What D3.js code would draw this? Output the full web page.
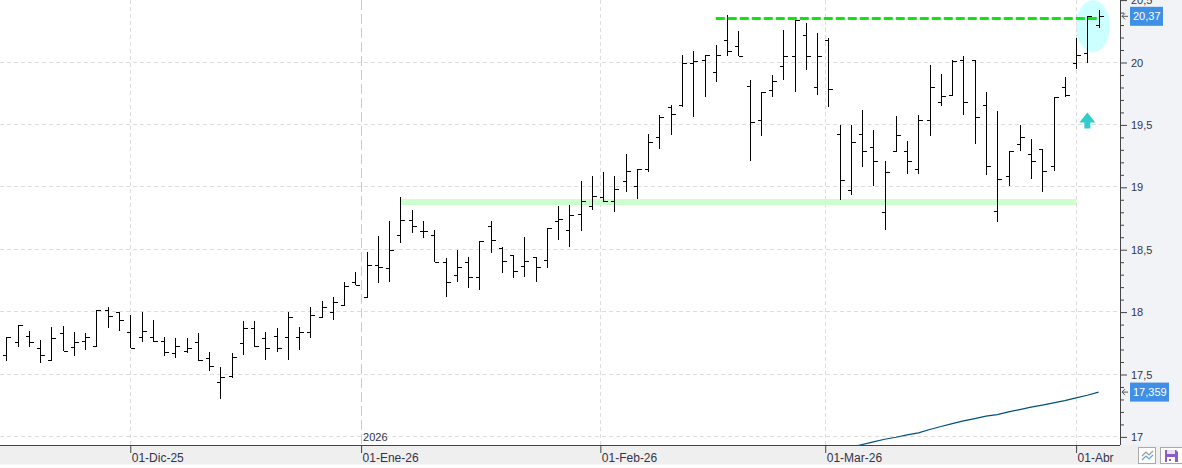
<!DOCTYPE html>
<html><head><meta charset="utf-8">
<script src="https://cdnjs.cloudflare.com/ajax/libs/d3/7.8.5/d3.min.js"></script>
<style>html,body{margin:0;padding:0;background:#fff;overflow:hidden}svg{display:block}text{font-family:"Liberation Sans",Arial,sans-serif}</style>
</head><body><svg id="c" width="1182" height="468"></svg>
<script>
const opens=[17.66,17.76,17.81,17.71,17.62,17.83,17.72,17.77,17.73,18.02,18.00,17.84,17.80,17.80,17.77,17.67,17.69,17.76,17.63,17.44,17.49,17.75,17.87,17.79,17.81,17.80,17.80,17.84,17.96,18.00,18.06,18.24,18.12,18.38,18.35,18.62,18.74,18.65,18.62,18.40,18.30,18.40,18.28,18.69,18.51,18.46,18.37,18.44,18.42,18.73,18.66,18.79,18.85,18.92,18.89,19.05,19.01,19.15,19.40,19.64,19.66,20.00,20.02,19.92,20.18,20.13,19.81,19.54,19.78,19.97,20.05,20.22,19.80,20.18,19.43,18.98,19.43,19.32,18.80,19.29,19.29,19.15,19.54,19.68,19.74,20.02,20.02,19.66,18.81,19.09,19.35,19.27,19.31,19.17,19.80,20.00,20.08,20.30];
const highs=[17.80,17.90,17.85,17.78,17.88,17.89,17.84,17.83,18.02,18.04,18.00,17.98,18.00,17.94,17.80,17.79,17.79,17.83,17.68,17.56,17.67,17.93,17.93,17.84,17.87,18.00,17.88,18.04,18.09,18.12,18.24,18.32,18.48,18.61,18.73,18.92,18.82,18.73,18.66,18.43,18.50,18.44,18.57,18.73,18.52,18.46,18.60,18.44,18.67,18.85,18.86,19.05,19.09,19.12,19.09,19.27,19.15,19.43,19.58,19.66,20.06,20.09,20.06,20.14,20.38,20.25,19.86,19.76,19.90,20.26,20.34,20.32,20.24,20.20,19.50,19.50,19.62,19.46,19.21,19.57,19.37,19.58,19.98,19.91,20.02,20.05,20.02,19.76,19.61,19.29,19.50,19.39,19.31,19.72,19.88,20.20,20.37,20.42];
const lows=[17.61,17.72,17.72,17.59,17.62,17.69,17.65,17.70,17.72,17.87,17.85,17.71,17.76,17.76,17.65,17.63,17.67,17.61,17.53,17.30,17.47,17.66,17.72,17.62,17.68,17.62,17.70,17.79,17.96,17.94,18.06,18.22,18.12,18.23,18.24,18.55,18.63,18.59,18.40,18.12,18.24,18.19,18.18,18.47,18.31,18.27,18.28,18.24,18.35,18.58,18.52,18.65,18.82,18.88,18.80,18.96,18.91,19.12,19.31,19.42,19.64,19.56,19.72,19.84,20.05,20.05,19.21,19.41,19.72,19.86,19.76,19.94,19.74,19.64,18.90,18.94,19.16,19.01,18.66,19.29,19.11,19.11,19.41,19.65,19.74,19.58,19.35,19.10,18.72,19.01,19.29,19.07,18.96,19.13,19.72,19.95,20.00,20.28];
const closes=[17.80,17.90,17.76,17.66,17.79,17.69,17.76,17.80,18.02,17.97,17.94,17.71,17.85,17.77,17.68,17.73,17.71,17.62,17.57,17.48,17.64,17.87,17.73,17.71,17.71,17.96,17.84,17.98,18.04,18.08,18.21,18.22,18.38,18.36,18.50,18.74,18.69,18.65,18.40,18.24,18.36,18.28,18.57,18.58,18.41,18.33,18.41,18.36,18.67,18.75,18.78,18.89,18.93,18.89,18.99,19.13,19.15,19.36,19.56,19.59,20.00,20.01,20.06,20.06,20.09,20.05,19.52,19.76,19.85,20.05,20.34,20.05,20.05,19.79,19.06,19.36,19.29,19.21,19.12,19.42,19.21,19.54,19.80,19.73,20.01,19.68,19.56,19.17,19.07,19.29,19.40,19.21,19.13,19.72,19.74,20.06,20.37,20.37];
const maStart=75;
const maValues=[16.917,16.939,16.96,16.981,16.997,17.016,17.032,17.059,17.083,17.107,17.128,17.147,17.166,17.179,17.2,17.219,17.238,17.254,17.272,17.291,17.313,17.334,17.359];
const priceMajor=[17,17.5,18,18.5,19,19.5,20,20.5];
const priceMinor=[17.1,17.2,17.3,17.4,17.6,17.7,17.8,17.9,18.1,18.2,18.3,18.4,18.6,18.7,18.8,18.9,19.1,19.2,19.3,19.4,19.6,19.7,19.8,19.9,20.1,20.2,20.3,20.4];
const dateTicks=[11,31.5,52.75,72.72,95];
const dateLabels=["01-Dic-25","01-Ene-26","01-Feb-26","01-Mar-26","01-Abr"];
const yearTick=31.5, yearLabel="2026";
const supportLevel=18.883, supportFrom=35, supportTo=95;
const resistanceLevel=20.353, resistanceFrom=63, resistanceTo=97;
const lastPrice=20.37, lastPriceLabel="20,37", maLabel="17,359", maLast=17.359;

const W=1182,H=468,plotR=1120,plotB=445;
const svg=d3.select("#c");
const x=d3.scaleLinear().domain([0,97]).range([6.4,1098.6]);
const y=d3.scaleLinear().domain([17,20.5]).range([436.9,0.1]);
const snap=v=>Math.round(v)+0.5;

// backgrounds
svg.append("rect").attr("x",plotR).attr("y",0).attr("width",W-plotR).attr("height",plotB).attr("fill","#f2f3f7");
svg.append("rect").attr("x",0).attr("y",plotB).attr("width",W).attr("height",19.5).attr("fill","#efefef");
const defs=svg.append("defs");
defs.append("clipPath").attr("id","p").append("rect").attr("width",plotR).attr("height",plotB);
const plot=svg.append("g").attr("clip-path","url(#p)");

// ellipse highlight
plot.append("ellipse").attr("cx",x(96.5)).attr("cy",y(20.29)).attr("rx",17).attr("ry",26).attr("fill","#ccffff");

// grid
plot.append("g").selectAll("line").data(priceMajor).join("line")
 .attr("x1",0).attr("x2",plotR).attr("y1",d=>snap(y(d))-1).attr("y2",d=>snap(y(d))-1)
 .attr("stroke","#dddddd").attr("stroke-dasharray","4 3");
plot.append("g").selectAll("line").data(dateTicks).join("line")
 .attr("x1",d=>snap(x(d))).attr("x2",d=>snap(x(d))).attr("y1",0).attr("y2",plotB)
 .attr("stroke",d=>d===yearTick?"#cccccc":"#dddddd")
 .attr("stroke-dasharray",d=>d===yearTick?"10 4":"4 3");

// support band
plot.append("line").attr("x1",x(supportFrom)).attr("x2",x(supportTo)).attr("y1",y(supportLevel)).attr("y2",y(supportLevel))
 .attr("stroke","#ccffcc").attr("stroke-width",6);

// MA
plot.append("path").datum(maValues).attr("fill","none").attr("stroke","#00507f").attr("stroke-width",1.2)
 .attr("d",d3.line().x((d,i)=>x(maStart+i)).y(d=>y(d)));

// OHLC bars
const bars=plot.append("g").attr("stroke","#000").attr("shape-rendering","crispEdges");
opens.forEach((o,i)=>{
  const cx=snap(x(i));
  bars.append("line").attr("x1",cx).attr("x2",cx).attr("y1",y(highs[i])).attr("y2",y(lows[i]));
  bars.append("line").attr("x1",cx-4).attr("x2",cx).attr("y1",snap(y(o))).attr("y2",snap(y(o)));
  bars.append("line").attr("x1",cx).attr("x2",cx+4).attr("y1",snap(y(closes[i]))).attr("y2",snap(y(closes[i])));
});

plot.append("line").attr("x1",x(resistanceFrom)).attr("x2",x(resistanceTo)).attr("y1",y(resistanceLevel)).attr("y2",y(resistanceLevel))
 .attr("stroke","#0be80b").attr("stroke-width",3).attr("stroke-dasharray","9 3");

// up arrow
plot.append("path").attr("transform",`translate(${x(96)},${y(19.6)})`)
 .attr("d","M0,0L8,10L3,10L3,16L-3,16L-3,10L-8,10Z").attr("fill","#33cccc");

// y axis
const axisColor="#444";
const minorAxis=d3.axisRight(y).tickValues(priceMinor).tickSize(4).tickFormat("");
const majorAxis=d3.axisRight(y).tickValues(priceMajor).tickSize(7).tickPadding(4)
  .tickFormat(d=>String(d).replace(".",","));
const gm=svg.append("g").attr("transform",`translate(${plotR},0)`).call(minorAxis);
const gM=svg.append("g").attr("transform",`translate(${plotR},0)`).call(majorAxis);
[gm,gM].forEach(g=>{g.select(".domain").remove();g.selectAll("line").attr("stroke",axisColor);});
gM.selectAll("text").attr("font-size",11).attr("fill","#33334a");
svg.append("line").attr("x1",plotR+.5).attr("x2",plotR+.5).attr("y1",0).attr("y2",plotB).attr("stroke",axisColor).attr("stroke-width",1);

// x axis
svg.append("line").attr("x1",0).attr("x2",plotR).attr("y1",plotB+.5).attr("y2",plotB+.5).attr("stroke",axisColor).attr("stroke-width",1);
const xAxis=d3.axisBottom(x).tickValues(dateTicks).tickSize(8).tickFormat((d,i)=>dateLabels[i]);
const gx=svg.append("g").attr("transform",`translate(0,${plotB})`).call(xAxis);
gx.select(".domain").remove();
gx.selectAll("line").attr("stroke",axisColor);
gx.selectAll("text").attr("text-anchor","start").attr("x",1).attr("y",8).attr("dy","0.71em").attr("font-size",12).attr("fill","#33334a");
svg.append("text").attr("x",x(yearTick)+2).attr("y",441).attr("font-size",11).attr("fill","#33334a").text(yearLabel);

// value tags
function tag(v,label,w){
  const c=y(v);
  svg.append("rect").attr("x",1130).attr("y",c-9.5).attr("width",w).attr("height",19).attr("fill","#3f8fe6");
  svg.append("text").attr("x",1133).attr("y",c+4).attr("font-size",11).attr("fill","#fff").text(label);
  svg.append("path").attr("d",`M1122,${c}h6M1122,${c}l3,-3M1122,${c}l3,3`).attr("fill","none").attr("stroke","#555").attr("stroke-width",1);
}
tag(lastPrice,lastPriceLabel,33);
tag(maLast,maLabel,39);

// buttons
const btn=svg.append("g");
btn.append("rect").attr("x",1138.5).attr("y",447.5).attr("width",17).attr("height",16).attr("fill","#fff").attr("stroke","#aaa");
btn.append("path").attr("d","M1142,456l4,-4l3,3l4,-4").attr("fill","none").attr("stroke","#999").attr("stroke-width",1.2);
btn.append("path").attr("d","M1142,460l4,-4l3,3l4,-4").attr("fill","none").attr("stroke","#5aa5e0").attr("stroke-width",1.2);
btn.append("rect").attr("x",1160.5).attr("y",447.5).attr("width",22).attr("height",16).attr("fill","#fff").attr("stroke","#aaa");
btn.append("path").attr("d","M1165,450h11l2,2v10h-13Z").attr("fill","#8a5cc4");
btn.append("rect").attr("x",1167).attr("y",450).attr("width",8).attr("height",4).attr("fill","#e8e0f5");
btn.append("rect").attr("x",1167).attr("y",457).attr("width",8).attr("height",5).attr("fill","#fff");
btn.append("rect").attr("x",1169).attr("y",459).attr("width",2).attr("height",2).attr("fill","#8a5cc4");
</script></body></html>
